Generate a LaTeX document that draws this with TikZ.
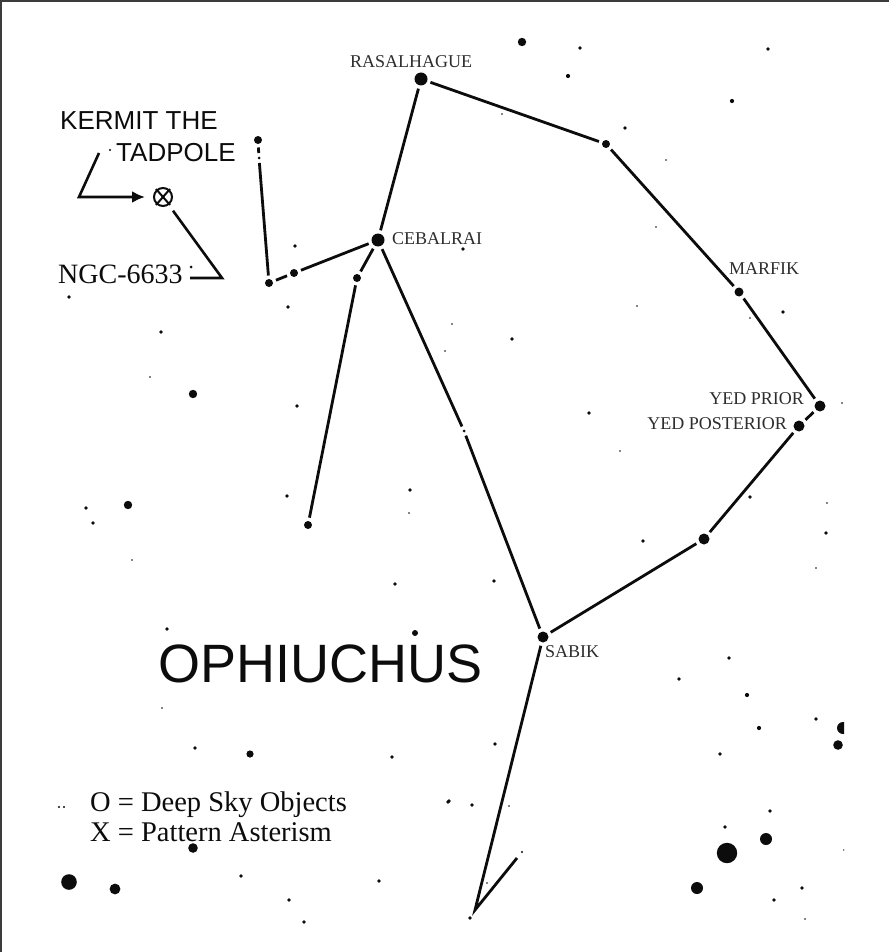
\documentclass[tikz,border=0pt]{standalone}
\usepackage{fontspec}
\setmainfont{Liberation Serif}
\newfontfamily\chartsans{Liberation Sans}
\usepackage{tikz}
\usetikzlibrary{arrows.meta, positioning, calc}
\definecolor{labelGray}{RGB}{45,45,45}
\definecolor{frameGray}{RGB}{60,60,60}
\definecolor{inkBlack}{RGB}{12,12,12}

\begin{document}
\begin{tikzpicture}[x=1pt, y=-1pt,
  cstar/.style={circle, fill=inkBlack, inner sep=0pt, minimum size=#1, outer sep=3.5pt},
  cline/.style={line width=2.8pt, inkBlack},
  starlabel/.style={font=\fontsize{18}{20}\selectfont, text=labelGray, inner sep=0pt},
  bigsans/.style={font=\chartsans\fontsize{26}{30}\selectfont, text=inkBlack, inner sep=0pt},
  legendtext/.style={font=\fontsize{28.5}{32}\selectfont, text=inkBlack, inner sep=0pt}]
  \useasboundingbox (0,0) rectangle (889,952);
  \fill[white] (0,0) rectangle (889,952);
  % frame, top and left only
  \draw[frameGray, line width=2.2pt] (1,952) -- (1,1) -- (889,1);

  % field stars  x/y/diameter  (y axis inverted)
  \begin{scope}
    \clip (0,0) rectangle (844,930);
    \foreach \sx/\sy/\sd in {295/246/3, 288/307/3, 69/297/3, 110/150/2, 191/267/2.5,
        522/42/7, 580/48/3, 568/76/3.5, 768/49/3, 732/101/3.5, 625/128/3, 502/114/1.5,
        666/160/1.5, 656/227/1.5, 463/249/3, 637/306/1.5, 783/312/3, 750/318/1.5,
        452/324/1.5, 512/339/3, 445/351/1.5, 589/413/3, 842/403/1.5, 620/451/1.5,
        750/497/3, 827/503/1.5, 826/533/3, 643/541/3, 816/568/1.5, 494/581/3,
        161/332/3, 150/377/1.5, 193/394/7, 297/406/3, 86/508/3, 128/505/7, 93/523/3,
        287/496/3, 410/490/3, 409/513/1.5, 132/560/1.5, 395/584/3, 167/629/3,
        415/633/5, 162/708/1.5, 195/748/3, 250/754/6, 392/757/3, 59/807/2, 64/807/2,
        448/802/3, 193/848/8, 69/882/13, 115/889/9, 241/876/3, 379/881/3, 289/900/3,
        304/922/3, 729/658/3, 679/679/3, 747/695/3.5, 816/719/3, 843/728/10,
        838/745/8, 759/728/3.5, 720/754/3, 495/744/3, 449/801/3, 472/805/3,
        509/806/1.5, 770/811/3, 725/827/3, 766/839/10, 727/853/17, 522/852/2,
        487/883/1.5, 697/888/10, 802/888/3, 774/900/3, 805/919/1.5, 844/850/1.5,
        470/918/3}
      \fill[inkBlack] (\sx,\sy) circle ({0.6*\sd});
  \end{scope}

  % constellation stars
  \node[cstar=13pt] (rasalhague) at (421,79) {};
  \node[cstar=8pt] (neck) at (606,144) {};
  \node[cstar=9pt] (marfik) at (739,292) {};
  \node[cstar=11pt] (yedPrior) at (820,406) {};
  \node[cstar=11pt] (yedPost) at (799,426) {};
  \node[cstar=11pt] (hip) at (704,539) {};
  \node[cstar=11pt] (sabik) at (543,637) {};
  \coordinate (foot) at (475,910);
  \coordinate (toe) at (517,858);
  \node[cstar=13pt] (cebalrai) at (378,240) {};
  \node[cstar=3pt] (midStar) at (464,431) {};
  \node[cstar=8pt] (armStar) at (357,278) {};
  \node[cstar=8pt] (armEnd) at (308,525) {};
  \node[cstar=8pt] (shoulder) at (294,273) {};
  \node[cstar=8pt] (elbow) at (269,283) {};
  \node[cstar=3pt] (handMid) at (259,158) {};
  \node[cstar=8pt] (hand) at (258,140) {};

  % figure lines
  \draw[cline] (rasalhague) -- (neck);
  \draw[cline] (neck) -- (marfik);
  \draw[cline] (marfik) -- (yedPrior);
  \draw[cline] (yedPrior) -- (yedPost);
  \draw[cline] (yedPost) -- (hip);
  \draw[cline] (hip) -- (sabik);
  \draw[cline] (sabik) -- (foot) -- (toe);
  \draw[cline] (rasalhague) -- (cebalrai);
  \draw[cline] (cebalrai) -- (midStar);
  \draw[cline] (midStar) -- (sabik);
  \draw[cline] (cebalrai) -- (armStar);
  \draw[cline] (armStar) -- (armEnd);
  \draw[cline] (cebalrai) -- (shoulder);
  \draw[cline] (shoulder) -- (elbow);
  \draw[cline] (elbow) -- (handMid);
  \draw[cline] (handMid) -- (hand);

  % star names
  \node[starlabel, anchor=base west] (rasLabel) at (350,68) {RASALHAGUE};
  \node[starlabel, anchor=base west] (cebLabel) at (392,244) {CEBALRAI};
  \node[starlabel, anchor=base west] (marLabel) at (729,274) {MARFIK};
  \node[starlabel, anchor=base east] (yedPriorLabel) at (804,404) {YED PRIOR};
  \node[starlabel, anchor=base east] (yedPostLabel) at (787,429) {YED POSTERIOR};
  \node[starlabel, anchor=base west] (sabLabel) at (545,657) {SABIK};

  % Kermit the Tadpole asterism
  \node[bigsans, anchor=base west] (kermitTitle) at (60,130) {KERMIT THE};
  \node[bigsans, anchor=base west] (tadpole) at (116,162) {TADPOLE};
  \node[circle, draw=inkBlack, line width=2pt, minimum size=18pt, inner sep=0pt] (kermit) at (163,197) {};
  \draw[inkBlack, line width=2pt] ($(kermit)+(-7,-8)$) -- ($(kermit)+(7,8)$);
  \draw[inkBlack, line width=2pt] ($(kermit)+(7,-8)$) -- ($(kermit)+(-7,8)$);
  \coordinate (kermitTail) at (99,153);
  \coordinate (kermitCorner) at (79,197);
  \draw[inkBlack, line width=2.6pt, -{Latex[length=13pt, width=12pt]}, shorten >=8pt]
    (kermitTail) -- (kermitCorner) -- (kermit);

  % NGC-6633 pointer
  \node[legendtext, font=\fontsize{28}{32}\selectfont, anchor=base west] (ngc) at (58,283) {NGC-6633};
  \coordinate (ngcCorner) at (222,278);
  \coordinate (ngcEnd) at (190,278);
  \draw[inkBlack, line width=2.6pt, shorten <=7pt] (kermit) -- (ngcCorner) -- (ngcEnd);

  % title and legend
  \node[inner sep=0pt, anchor=base west, text=inkBlack, font=\chartsans\fontsize{54}{60}\selectfont] (title) at (158,682) {OPHIUCHUS};
  \node[legendtext, anchor=base west] (legendO) at (90,811) {O = Deep Sky Objects};
  \node[legendtext, anchor=base west] (legendX) at (90,841) {X = Pattern Asterism};
\end{tikzpicture}
\end{document}
